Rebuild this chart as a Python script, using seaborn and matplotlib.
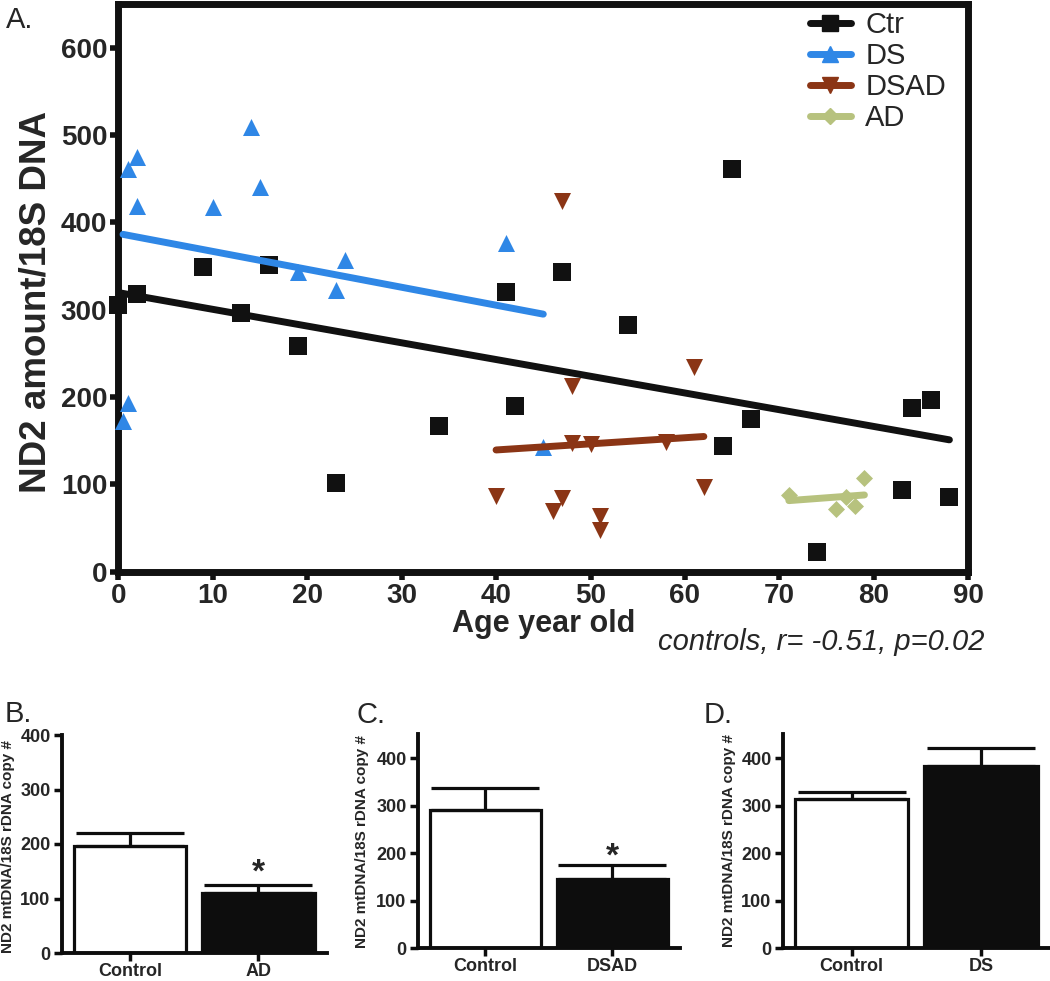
import matplotlib
matplotlib.use('Agg')
import matplotlib.pyplot as plt
from matplotlib.lines import Line2D
import seaborn as sns

# 나이별 ND2 값 (산점도 A)
ctr_age = [0, 2, 9, 13, 16, 19, 23, 34, 41, 42, 47, 54, 64, 65, 67, 74, 83, 84, 86, 88]
ctr_nd2 = [305, 318, 349, 296, 351, 258, 102, 167, 320, 190, 343, 283, 144, 461, 175, 22, 93, 187, 197, 85]

ds_age = [0.5, 1, 1, 2, 2, 10, 14, 15, 19, 23, 24, 41, 45]
ds_nd2 = [173, 193, 461, 475, 419, 418, 509, 440, 343, 322, 357, 376, 143]

dsad_age = [40, 46, 47, 47, 48, 48, 50, 51, 51, 58, 61, 62]
dsad_nd2 = [87, 69, 425, 84, 213, 147, 146, 64, 48, 149, 234, 97]

ad_age = [71, 76, 77, 78, 79]
ad_nd2 = [88, 72, 86, 75, 107]

# 막대그래프 B, C, D
b_groups = ['Control', 'AD']
b_mean = [197, 111]
b_err = [23, 14]

c_groups = ['Control', 'DSAD']
c_mean = [291, 146]
c_err = [46, 29]

d_groups = ['Control', 'DS']
d_mean = [314, 384]
d_err = [14, 38]

sns.set_theme(style='ticks')
plt.rcParams['font.family'] = ['Liberation Sans', 'DejaVu Sans']

W, H = 1050, 981
fig = plt.figure(figsize=(W / 100, H / 100), dpi=100)

# ---- A. 산점도 + 회귀선
ax = fig.add_axes([118.3 / W, 1 - 571.7 / H, 850 / W, 567.7 / H])

series = [
    ('Ctr', ctr_age, ctr_nd2, 's', '#111111', 150),
    ('DS', ds_age, ds_nd2, '^', '#2F87E6', 150),
    ('DSAD', dsad_age, dsad_nd2, 'v', '#8B3515', 150),
    ('AD', ad_age, ad_nd2, 'D', '#B7C27E', 75),
]

handles = []
for name, xs, ys, mk, col, sz in series:
    sns.regplot(x=xs, y=ys, ax=ax, ci=None, marker=mk, color=col, truncate=True,
                scatter_kws={'s': sz, 'alpha': 1, 'linewidths': 0, 'clip_on': False, 'zorder': 3},
                line_kws={'lw': 5, 'zorder': 4})
    handles.append(Line2D([], [], color=col, marker=mk, lw=5, solid_capstyle='round',
                          markersize=(sz ** 0.5) * 0.95, label=name))

ax.set_xlim(0, 90)
ax.set_ylim(0, 650)
ax.set_xticks(range(0, 91, 10))
ax.set_yticks(range(0, 601, 100))
for s in ax.spines.values():
    s.set_linewidth(5)
    s.set_color('#111111')
ax.tick_params(width=4, length=6, direction='out', labelsize=20, pad=2, color='#111111')
plt.setp(ax.get_xticklabels() + ax.get_yticklabels(), fontweight='bold')

ax.set_xlabel('Age year old', fontsize=22, fontweight='bold', labelpad=0)
ax.set_ylabel('ND2 amount/18S DNA', fontsize=26.5, fontweight='bold')
ax.yaxis.set_label_coords(-0.076, 0.475)

leg = ax.legend(handles=handles, loc='upper left', bbox_to_anchor=(0.805, 1.0),
                frameon=False, fontsize=21, handlelength=1.4, handletextpad=0.5,
                labelspacing=0.1, borderpad=0.25, borderaxespad=0)

fig.text(985 / W, 1 - 642 / H, 'controls, r= -0.51, p=0.02', fontsize=21,
         fontstyle='italic', ha='right', va='center')
fig.text(6 / W, 1 - 6 / H, 'A.', fontsize=21, ha='left', va='top')


# ---- B, C, D 막대그래프
def bar_panel(rect, groups, means, errs, ymax, star_y, ylab_x, ylab_y):
    bx = fig.add_axes(rect)
    sns.barplot(x=groups, y=means, hue=groups, palette=['white', '#0d0d0d'], legend=False,
                edgecolor='#0d0d0d', linewidth=2.3, width=0.875, errorbar=None, ax=bx)
    bx.errorbar(x=[0, 1], y=means, yerr=[[0, 0], errs], fmt='none', ecolor='#0d0d0d',
                elinewidth=2.3, capsize=39, capthick=2.3, zorder=1)
    bx.set_ylim(0, ymax)
    bx.set_yticks(range(0, 401, 100))
    sns.despine(ax=bx)
    for k in ['left', 'bottom']:
        bx.spines[k].set_linewidth(2.8)
        bx.spines[k].set_color('#0d0d0d')
    bx.tick_params(width=2.5, length=6, color='#0d0d0d', pad=2)
    bx.tick_params(axis='x', labelsize=13, pad=1)
    bx.tick_params(axis='y', labelsize=13)
    plt.setp(bx.get_xticklabels() + bx.get_yticklabels(), fontweight='bold')
    bx.set_ylabel('ND2 mtDNA/18S rDNA copy #', fontsize=11, fontweight='bold')
    bx.yaxis.set_label_coords(ylab_x, ylab_y)
    if star_y is not None:
        bx.text(1, star_y, '*', ha='center', va='center', fontsize=24, fontweight='bold')
    return bx


bar_panel([61.7 / W, 1 - 953 / H, 265 / W, 218 / H], b_groups, b_mean, b_err,
          400, 146, -0.176, 0.49)
bar_panel([417.7 / W, 1 - 948.3 / H, 262.3 / W, 214 / H], c_groups, c_mean, c_err,
          450, 191, -0.186, 0.497)
bar_panel([782.7 / W, 1 - 948.3 / H, 267.3 / W, 214 / H], d_groups, d_mean, d_err,
          450, None, -0.175, 0.506)

fig.text(5 / W, 1 - 700 / H, 'B.', fontsize=21, ha='left', va='top')
fig.text(356 / W, 1 - 701 / H, 'C.', fontsize=21, ha='left', va='top')
fig.text(704 / W, 1 - 701 / H, 'D.', fontsize=21, ha='left', va='top')

fig.savefig('out.png', dpi=100)
